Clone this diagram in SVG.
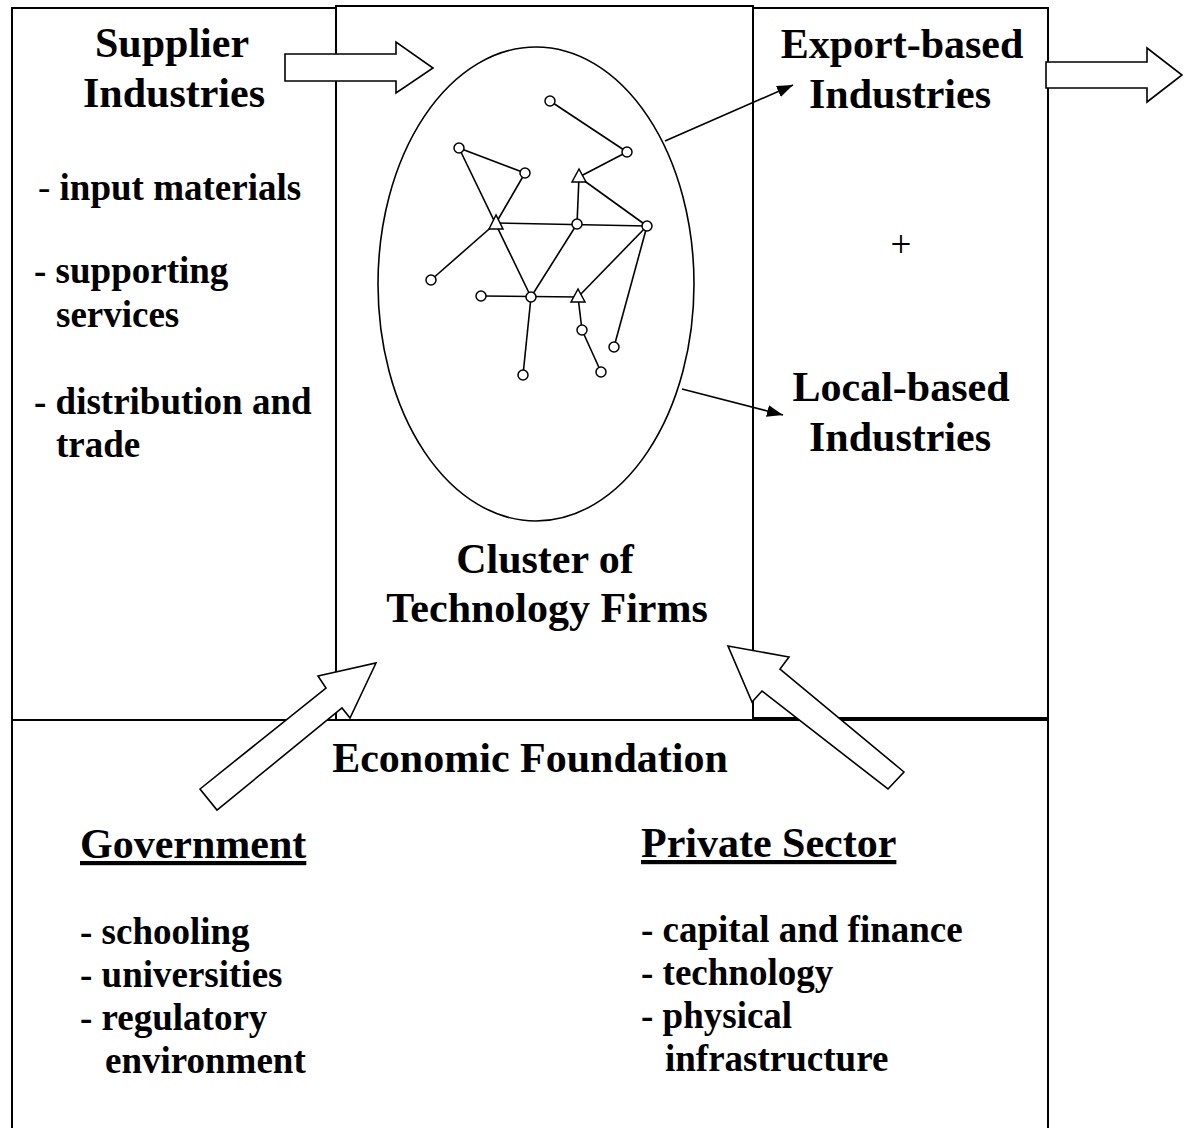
<svg xmlns="http://www.w3.org/2000/svg" width="1190" height="1128" viewBox="0 0 1190 1128">
<defs>
<style>
.box{fill:none;stroke:#000;stroke-width:2}
.blk{fill:#fff;stroke:#000;stroke-width:1.6}
.edge{stroke:#000;stroke-width:1.6;fill:none}
.nd{fill:#fff;stroke:#000;stroke-width:1.5}
.h{font-family:"Liberation Serif","Times New Roman",serif;font-weight:bold;font-size:42px;fill:#000}
.t{font-family:"Liberation Serif","Times New Roman",serif;font-weight:bold;font-size:37px;fill:#000}
.r{font-weight:normal}
.mid{text-anchor:middle}
</style>
<marker id="ah2" viewBox="0 0 16 12" refX="16" refY="6" markerWidth="16" markerHeight="12" markerUnits="userSpaceOnUse" orient="auto">
<path d="M0,0 L16,6 L0,12 z" fill="#000"/>
</marker>
</defs>
<rect width="1190" height="1128" fill="#fff"/>

<g id="supplier-box">
<rect class="box" x="12" y="8" width="324" height="712"/>
<text class="h mid" x="172" y="57">Supplier</text>
<text class="h mid" x="174" y="107">Industries</text>
<text class="t" x="38" y="200"><tspan class="r">- </tspan>input materials</text>
<text class="t" x="34" y="283">- supporting</text>
<text class="t" x="56" y="327">services</text>
<text class="t" x="34" y="414">- distribution and</text>
<text class="t" x="56" y="457">trade</text>
</g>

<g id="cluster-box">
<rect class="box" x="336" y="6" width="417" height="714"/>
<ellipse class="edge" cx="536" cy="284" rx="158" ry="237"/>
<text class="h mid" x="545" y="573">Cluster of</text>
<text class="h mid" x="547" y="622">Technology Firms</text>
</g>

<g id="industries-box">
<rect class="box" x="753" y="8" width="295" height="710"/>
<text class="h mid" x="902" y="58">Export-based</text>
<text class="h mid" x="900" y="108">Industries</text>
<text class="t r mid" x="901" y="257">+</text>
<text class="h mid" x="901" y="401">Local-based</text>
<text class="h mid" x="900" y="451">Industries</text>
</g>

<g id="foundation-box">
<rect class="box" x="12" y="720" width="1036" height="420"/>
<text class="h mid" x="530" y="772">Economic Foundation</text>
<text class="h" x="80" y="858" text-decoration="underline">Government</text>
<text class="t" x="80" y="944">- schooling</text>
<text class="t" x="80" y="987">- universities</text>
<text class="t" x="80" y="1030">- regulatory</text>
<text class="t" x="105" y="1073">environment</text>
<text class="h" x="641" y="857" text-decoration="underline">Private Sector</text>
<text class="t" x="641" y="942">- capital and finance</text>
<text class="t" x="641" y="985">- technology</text>
<text class="t" x="641" y="1028">- physical</text>
<text class="t" x="665" y="1071">infrastructure</text>
</g>

<g id="network">
<g class="edge">
<line x1="550" y1="101" x2="627" y2="152"/>
<line x1="627" y1="152" x2="579" y2="177"/>
<line x1="579" y1="177" x2="577" y2="224"/>
<line x1="579" y1="177" x2="647" y2="226"/>
<line x1="459" y1="148" x2="525" y2="173"/>
<line x1="459" y1="148" x2="531" y2="297"/>
<line x1="525" y1="173" x2="496" y2="223"/>
<line x1="496" y1="223" x2="647" y2="226"/>
<line x1="496" y1="223" x2="431" y2="280"/>
<line x1="577" y1="224" x2="531" y2="297"/>
<line x1="647" y1="226" x2="578" y2="297"/>
<line x1="647" y1="226" x2="614" y2="347"/>
<line x1="481" y1="296" x2="578" y2="297"/>
<line x1="531" y1="297" x2="523" y2="375"/>
<line x1="578" y1="297" x2="582" y2="330"/>
<line x1="582" y1="330" x2="601" y2="372"/>
</g>
<g class="nd">
<circle cx="550" cy="101" r="5"/>
<circle cx="627" cy="152" r="5"/>
<circle cx="459" cy="148" r="5"/>
<circle cx="525" cy="173" r="5"/>
<circle cx="577" cy="224" r="5"/>
<circle cx="647" cy="226" r="5"/>
<circle cx="431" cy="280" r="5"/>
<circle cx="481" cy="296" r="5"/>
<circle cx="531" cy="297" r="5"/>
<circle cx="582" cy="330" r="5"/>
<circle cx="614" cy="347" r="5"/>
<circle cx="523" cy="375" r="5"/>
<circle cx="601" cy="372" r="5"/>
<polygon points="579,169 572,182 586,182"/>
<polygon points="496,215 489,229 503,229"/>
<polygon points="578,289 571,302 585,302"/>
</g>
</g>

<g id="connectors">
<line class="edge" x1="665" y1="141" x2="793" y2="85" marker-end="url(#ah2)"/>
<line class="edge" x1="682" y1="389" x2="783" y2="415" marker-end="url(#ah2)"/>
<polygon class="blk" points="285,54 396,54 396,42 433,68 396,93 396,81 285,81"/>
<polygon class="blk" points="1046,62 1147,62 1147,48 1182,75 1147,102 1147,88 1046,88"/>
<polygon class="blk" points="200,789 326,688 318,676 376,663 350,718 342,708 217,810"/>
<polygon class="blk" points="904,772 780,669 789,657 728,646 752,702 762,691 888,789"/>
</g>
</svg>
